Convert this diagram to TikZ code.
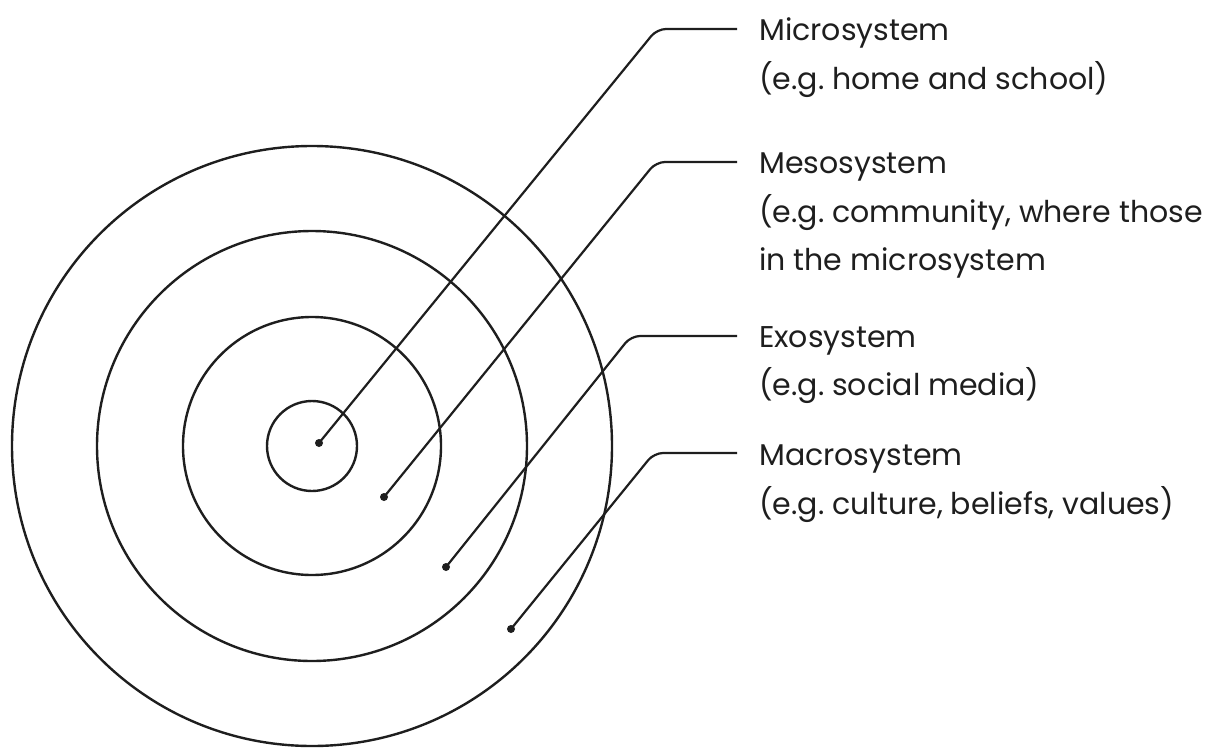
\documentclass[tikz,border=0pt]{standalone}
\usepackage{fontspec}
\setmainfont{Poppins}
\usetikzlibrary{calc}
\definecolor{ink}{HTML}{1E1E1E}
\frenchspacing
\begin{document}
\begin{tikzpicture}[x=1pt,y=-1pt,
  ring/.style={draw=ink,line width=2.4pt},
  leader/.style={draw=ink,line width=2.2pt,rounded corners=9pt},
  dotmark/.style={circle,fill=ink,inner sep=0pt,minimum size=8pt},
  lbl/.style={anchor=base west,inner sep=0pt,text=ink,font=\fontsize{30}{36}\selectfont}]
\useasboundingbox (0,0) rectangle (1218,747);
\coordinate (o) at (312,446);
\draw[ring] (o) circle[radius=45];
\draw[ring] (o) circle[radius=129];
\draw[ring] (o) circle[radius=215];
\draw[ring] (o) circle[radius=300];
% labels
\node[lbl] (t1) at (759,40) {Microsystem};
\node[lbl] (s1) at (759,89) {(e.g. home and school)};
\node[lbl] (t2) at (759,173) {Mesosystem};
\node[lbl] (s2) at (759,222) {(e.g. community, where those};
\node[lbl] (s2b) at (759,270) {in the microsystem};
\node[lbl] (t3) at (759,347) {Exosystem};
\node[lbl] (s3) at (759,395) {(e.g. social media)};
\node[lbl] (t4) at (759,465) {Macrosystem};
\node[lbl] (s4) at (759,514) {(e.g. culture, beliefs, values)};
% dots
\node[dotmark] (d1) at (319,443) {};
\node[dotmark] (d2) at (384,497) {};
\node[dotmark] (d3) at (446,567) {};
\node[dotmark] (d4) at (511,629) {};
% leader ends and corners
\coordinate (e1) at ($(t1.base west)+(-22,-11)$);
\coordinate (e2) at ($(t2.base west)+(-22,-11)$);
\coordinate (e3) at ($(t3.base west)+(-22,-11)$);
\coordinate (e4) at ($(t4.base west)+(-22,-12)$);
\coordinate (c1) at ($(e1)+(-80,0)$);
\coordinate (c2) at ($(e2)+(-81,0)$);
\coordinate (c3) at ($(e3)+(-106,0)$);
\coordinate (c4) at ($(e4)+(-83,0)$);
\draw[leader] (d1.center) -- (c1) -- (e1);
\draw[leader] (d2.center) -- (c2) -- (e2);
\draw[leader] (d3.center) -- (c3) -- (e3);
\draw[leader] (d4.center) -- (c4) -- (e4);
\end{tikzpicture}
\end{document}
